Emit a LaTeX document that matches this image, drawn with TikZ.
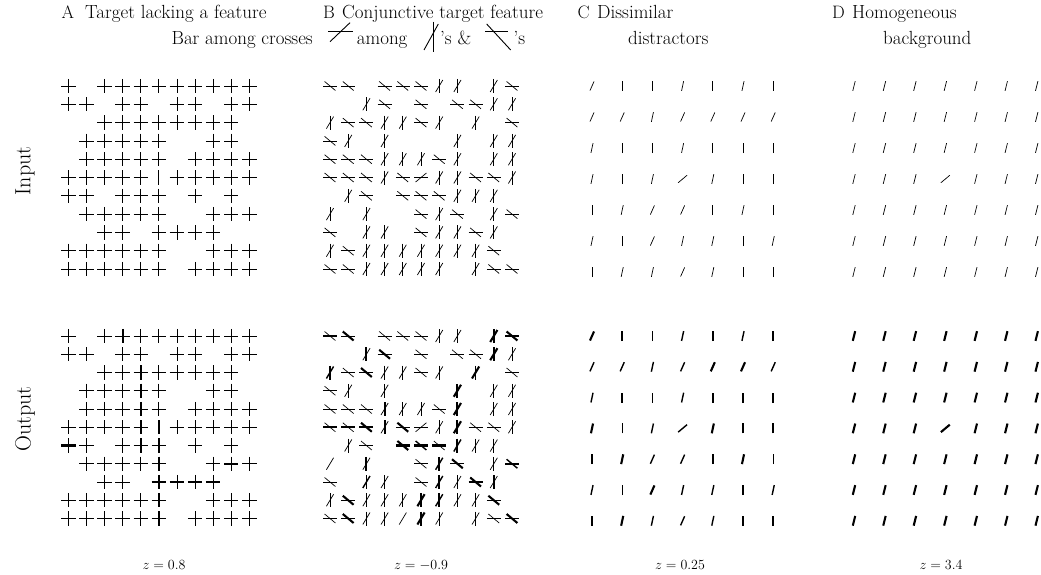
\documentclass[tikz,border=0pt]{standalone}
\usepackage{fix-cm}
\newcommand\setw[1]{\ifcase#1\def\curw{0pt}\or\def\curw{0.7pt}\or\def\curw{1.4pt}\or\def\curw{2.1pt}\fi}
\newcommand\Em{}
% panel A
\newcommand\Xc[2]{\ifnum#1>0 \setw{#1}\draw[line width=\curw] (\cx,\cy-7.2)--(\cx,\cy+7.2);\fi
  \ifnum#2>0 \setw{#2}\draw[line width=\curw] (\cx-7.2,\cy)--(\cx+7.2,\cy);\fi}
\newcommand\Ib[1]{\setw{#1}\draw[line width=\curw] (\cx,\cy-7.2)--(\cx,\cy+7.2);}
% panel B
\newcommand\Hc[2]{\ifnum#1>0 \setw{#1}\draw[line width=\curw] (\cx-7,\cy)--(\cx+7,\cy);\fi
  \ifnum#2>0 \setw{#2}\draw[line width=\curw] (\cx-5.4,\cy-4.5)--(\cx+5.4,\cy+4.5);\fi}
\newcommand\Vc[2]{\ifnum#1>0 \setw{#1}\draw[line width=\curw] (\cx,\cy-7)--(\cx,\cy+7);\fi
  \ifnum#2>0 \setw{#2}\draw[line width=\curw] (\cx-3.6,\cy+6)--(\cx+3.6,\cy-6);\fi}
\newcommand\Tc[2]{\ifnum#1>0 \setw{#1}\draw[line width=\curw] (\cx-7,\cy)--(\cx+7,\cy);\fi
  \ifnum#2>0 \setw{#2}\draw[line width=\curw] (\cx-5.4,\cy+4.5)--(\cx+5.4,\cy-4.5);\fi}
% panels C, D
\newcommand\Bar[3]{\setw{#3}\pgfmathsetmacro\bdx{#2*sin(#1)}\pgfmathsetmacro\bdy{#2*cos(#1)}%
  \draw[line width=\curw] (\cx-\bdx,\cy+\bdy)--(\cx+\bdx,\cy-\bdy);}
\newcommand\Bv[1]{\Bar{0}{5}{#1}}
\newcommand\Bs[1]{\Bar{12}{5}{#1}}
\newcommand\Bt[1]{\Bar{24}{5}{#1}}
\newcommand\Bd[1]{\Bar{14}{5}{#1}}
\newcommand\Bx[1]{\Bar{50}{5.8}{#1}}
\newcommand\gridrows[5]{%
  \foreach \rowlist [count=\ri] in {#5} {
    \foreach \cell [count=\ki] in \rowlist {
      \pgfmathsetmacro\cx{#1+(\ki-1)*#2}
      \pgfmathsetmacro\cy{#3+(\ri-1)*#4}
      \cell
    }
  }}
\newcommand\hd{\fontsize{19}{22}\selectfont}
\newcommand\lt{\fontsize{18}{20}\selectfont}
\begin{document}
\begin{tikzpicture}[x=1pt,y=-1pt,line cap=butt,
  lbl/.style={inner sep=0pt,font=\hd},
  let/.style={inner sep=0pt,font=\lt},
  zlbl/.style={inner sep=0pt,font=\fontsize{14}{16}\selectfont},
  rowlbl/.style={inner sep=0pt,rotate=90,font=\fontsize{22}{26}\selectfont},
  leg/.style={line width=0.9pt}]
\useasboundingbox (0,0) rectangle (1041,575);

% headings
\node[let,anchor=base west] (lA) at (61.5,18.3) {A};
\node[lbl,anchor=base west] (hA) at (85,18.3) {Target lacking a feature};
\node[lbl,anchor=base east] (hA2) at (313,45) {Bar among crosses};
\node[let,anchor=base west] (lB) at (323,18.3) {B};
\node[lbl,anchor=base west] (hB) at (342,18.3) {Conjunctive target feature};
\draw[leg] (328.3,31.7)--(353.3,31.7);
\draw[leg] (330,41.7)--(350,22.7);
\node[lbl,anchor=base west] (among) at (356.7,45) {among};
\draw[leg] (433.3,21.7)--(433.3,51.7);
\draw[leg] (424,50)--(438.3,24);
\node[lbl,anchor=base west] (samp) at (440,45) {'s \&};
\draw[leg] (485,31.7)--(508.3,31.7);
\draw[leg] (486.7,24)--(510.7,50);
\node[lbl,anchor=base west] (s2) at (513.3,45) {'s};
\node[let,anchor=base west] (lC) at (577.5,18.3) {C};
\node[lbl,anchor=base west] (hC) at (597,18.3) {Dissimilar};
\node[lbl,anchor=base west] (hC2) at (628,45) {distractors};
\node[let,anchor=base west] (lD) at (832,18.3) {D};
\node[lbl,anchor=base west] (hD) at (852,18.3) {Homogeneous};
\node[lbl,anchor=base west] (hD2) at (883,45) {background};

\node[rowlbl] (inp) at (25,171) {Input};
\node[rowlbl] (outp) at (25,419) {Output};

\node[zlbl,anchor=base] (z1) at (164,569) {$z=0.8$};
\node[zlbl,anchor=base] (z2) at (421,569) {$z=-0.9$};
\node[zlbl,anchor=base] (z3) at (680,569) {$z=0.25$};
\node[zlbl,anchor=base] (z4) at (941,569) {$z=3.4$};

% Panel A input
\gridrows{68.3}{18.1}{86}{18.3}{
{\Xc11,\Em,\Xc11,\Xc11,\Xc11,\Xc11,\Xc11,\Xc11,\Xc11,\Xc11,\Xc11},
{\Xc11,\Xc11,\Em,\Xc11,\Xc11,\Em,\Xc11,\Xc11,\Em,\Xc11,\Xc11},
{\Em,\Em,\Xc11,\Xc11,\Xc11,\Xc11,\Xc11,\Xc11,\Xc11,\Xc11,\Em},
{\Em,\Xc11,\Xc11,\Xc11,\Xc11,\Xc11,\Em,\Em,\Xc11,\Xc11,\Em},
{\Em,\Xc11,\Xc11,\Xc11,\Xc11,\Xc11,\Em,\Xc11,\Xc11,\Xc11,\Xc11},
{\Xc11,\Xc11,\Xc11,\Xc11,\Xc11,\Ib1,\Xc11,\Xc11,\Xc11,\Xc11,\Xc11},
{\Xc11,\Xc11,\Em,\Xc11,\Xc11,\Xc11,\Em,\Xc11,\Em,\Xc11,\Em},
{\Em,\Xc11,\Xc11,\Xc11,\Xc11,\Xc11,\Em,\Em,\Xc11,\Xc11,\Xc11},
{\Em,\Em,\Xc11,\Xc11,\Em,\Xc11,\Xc11,\Xc11,\Xc11,\Em,\Em},
{\Xc11,\Xc11,\Xc11,\Xc11,\Xc11,\Xc11,\Em,\Em,\Xc11,\Xc11,\Xc11},
{\Xc11,\Xc11,\Xc11,\Xc11,\Xc11,\Xc11,\Em,\Xc11,\Xc11,\Xc11,\Xc11}}
% Panel A output
\gridrows{68.3}{18.1}{336}{18.25}{
{\Xc11,\Em,\Xc11,\Xc31,\Xc11,\Xc11,\Xc11,\Xc11,\Xc11,\Xc11,\Xc11},
{\Xc11,\Xc11,\Em,\Xc11,\Xc11,\Em,\Xc11,\Xc11,\Em,\Xc11,\Xc11},
{\Em,\Em,\Xc11,\Xc11,\Xc31,\Xc11,\Xc11,\Xc11,\Xc11,\Xc11,\Em},
{\Em,\Xc11,\Xc11,\Xc11,\Xc31,\Xc11,\Em,\Em,\Xc11,\Xc11,\Em},
{\Em,\Xc11,\Xc11,\Xc11,\Xc31,\Xc11,\Em,\Xc11,\Xc11,\Xc11,\Xc11},
{\Xc11,\Xc11,\Xc11,\Xc11,\Xc31,\Ib3,\Xc11,\Xc11,\Xc11,\Xc11,\Xc11},
{\Xc13,\Xc11,\Em,\Xc11,\Xc31,\Xc21,\Em,\Xc11,\Em,\Xc11,\Em},
{\Em,\Xc11,\Xc11,\Xc11,\Xc11,\Xc31,\Em,\Em,\Xc11,\Xc13,\Xc11},
{\Em,\Em,\Xc11,\Xc11,\Em,\Xc33,\Xc13,\Xc13,\Xc13,\Em,\Em},
{\Xc12,\Xc12,\Xc11,\Xc11,\Xc11,\Xc31,\Em,\Em,\Xc11,\Xc11,\Xc11},
{\Xc11,\Xc11,\Xc11,\Xc11,\Xc11,\Xc31,\Em,\Xc11,\Xc11,\Xc11,\Xc11}}

% Panel B input
\gridrows{330}{18.2}{86}{18.3}{
{\Hc11,\Hc11,\Em,\Hc11,\Hc11,\Hc11,\Vc11,\Vc11,\Em,\Vc11,\Hc11},
{\Em,\Em,\Vc11,\Hc11,\Em,\Hc11,\Em,\Hc11,\Hc11,\Vc11,\Vc11},
{\Vc11,\Hc11,\Hc11,\Vc11,\Vc11,\Hc11,\Vc11,\Em,\Vc11,\Em,\Hc11},
{\Hc11,\Vc11,\Em,\Vc11,\Em,\Em,\Em,\Vc11,\Em,\Vc11,\Vc11},
{\Hc11,\Hc11,\Hc11,\Vc11,\Vc11,\Vc11,\Hc11,\Vc11,\Em,\Vc11,\Vc11},
{\Hc11,\Hc11,\Hc11,\Vc11,\Hc11,\Tc11,\Vc11,\Vc11,\Hc11,\Hc11,\Vc11},
{\Em,\Vc11,\Hc11,\Em,\Hc11,\Hc11,\Hc11,\Vc11,\Vc11,\Vc11,\Em},
{\Vc11,\Em,\Vc11,\Em,\Em,\Hc11,\Vc11,\Hc11,\Em,\Vc11,\Hc11},
{\Hc11,\Em,\Vc11,\Vc11,\Em,\Hc11,\Vc11,\Vc11,\Hc11,\Vc11,\Em},
{\Vc11,\Hc11,\Vc11,\Vc11,\Vc11,\Vc11,\Vc11,\Vc11,\Vc11,\Hc11,\Em},
{\Hc11,\Hc11,\Vc11,\Vc11,\Vc11,\Vc11,\Vc11,\Em,\Vc11,\Hc11,\Hc11}}
% Panel B output
\gridrows{330}{18.2}{336}{18.25}{
{\Hc31,\Hc13,\Em,\Hc11,\Hc11,\Hc11,\Vc11,\Vc11,\Em,\Vc33,\Hc23},
{\Em,\Em,\Vc31,\Hc13,\Em,\Hc11,\Em,\Hc11,\Hc11,\Vc33,\Vc11},
{\Vc32,\Hc11,\Hc13,\Vc11,\Vc11,\Hc11,\Vc11,\Em,\Vc23,\Em,\Hc11},
{\Hc11,\Vc11,\Em,\Vc21,\Em,\Em,\Em,\Vc33,\Em,\Vc11,\Vc11},
{\Hc11,\Hc11,\Hc11,\Vc31,\Vc11,\Vc11,\Hc11,\Vc33,\Em,\Vc11,\Vc11},
{\Hc31,\Hc31,\Hc33,\Vc31,\Hc23,\Tc11,\Vc11,\Vc33,\Hc21,\Hc21,\Vc11},
{\Em,\Vc11,\Hc21,\Em,\Hc33,\Hc32,\Hc31,\Vc32,\Vc11,\Vc11,\Em},
{\Vc01,\Em,\Vc31,\Em,\Em,\Hc11,\Vc32,\Hc13,\Em,\Vc11,\Hc32},
{\Hc11,\Em,\Vc22,\Vc11,\Em,\Hc11,\Vc32,\Vc11,\Hc23,\Vc21,\Em},
{\Vc11,\Hc13,\Vc11,\Vc11,\Vc11,\Vc33,\Vc32,\Vc11,\Vc11,\Hc13,\Em},
{\Hc11,\Hc13,\Vc11,\Vc11,\Vc01,\Vc33,\Vc11,\Em,\Vc11,\Hc11,\Hc23}}

% Panel C input
\gridrows{592}{30.2}{86}{31}{
{\Bt1,\Bv1,\Bv1,\Bs1,\Bv1,\Bs1,\Bv1},
{\Bt1,\Bt1,\Bs1,\Bt1,\Bt1,\Bt1,\Bt1},
{\Bs1,\Bv1,\Bv1,\Bs1,\Bv1,\Bv1,\Bv1},
{\Bs1,\Bv1,\Bs1,\Bx1,\Bs1,\Bv1,\Bv1},
{\Bv1,\Bs1,\Bt1,\Bt1,\Bv1,\Bs1,\Bv1},
{\Bs1,\Bv1,\Bt1,\Bs1,\Bs1,\Bv1,\Bs1},
{\Bv1,\Bs1,\Bs1,\Bt1,\Bs1,\Bv1,\Bv1}}
% Panel C output
\gridrows{592}{30.2}{336}{30.8}{
{\Bt3,\Bv3,\Bv2,\Bs2,\Bv3,\Bs2,\Bv3},
{\Bt2,\Bt2,\Bs2,\Bt2,\Bt3,\Bt3,\Bt2},
{\Bs2,\Bv3,\Bv2,\Bs2,\Bv3,\Bv3,\Bv3},
{\Bs3,\Bv2,\Bs2,\Bx2,\Bs3,\Bv2,\Bv3},
{\Bv2,\Bs3,\Bt2,\Bt2,\Bv3,\Bs3,\Bv2},
{\Bs2,\Bv2,\Bt3,\Bs2,\Bs2,\Bv2,\Bs2},
{\Bv2,\Bs3,\Bs2,\Bt2,\Bs2,\Bv2,\Bv3}}

% Panel D input
\gridrows{854}{30.45}{86}{31}{
{\Bd1,\Bd1,\Bd1,\Bd1,\Bd1,\Bd1,\Bd1},
{\Bd1,\Bd1,\Bd1,\Bd1,\Bd1,\Bd1,\Bd1},
{\Bd1,\Bd1,\Bd1,\Bd1,\Bd1,\Bd1,\Bd1},
{\Bd1,\Bd1,\Bd1,\Bx1,\Bd1,\Bd1,\Bd1},
{\Bd1,\Bd1,\Bd1,\Bd1,\Bd1,\Bd1,\Bd1},
{\Bd1,\Bd1,\Bd1,\Bd1,\Bd1,\Bd1,\Bd1},
{\Bd1,\Bd1,\Bd1,\Bd1,\Bd1,\Bd1,\Bd1}}
% Panel D output
\gridrows{854}{30.45}{336}{30.8}{
{\Bd3,\Bd3,\Bd3,\Bd3,\Bd3,\Bd3,\Bd3},
{\Bd3,\Bd3,\Bd3,\Bd3,\Bd3,\Bd3,\Bd3},
{\Bd3,\Bd3,\Bd3,\Bd3,\Bd3,\Bd3,\Bd3},
{\Bd3,\Bd3,\Bd3,\Bx3,\Bd3,\Bd3,\Bd3},
{\Bd3,\Bd3,\Bd3,\Bd3,\Bd3,\Bd3,\Bd3},
{\Bd3,\Bd3,\Bd3,\Bd3,\Bd3,\Bd3,\Bd3},
{\Bd3,\Bd3,\Bd3,\Bd3,\Bd3,\Bd3,\Bd3}}
\end{tikzpicture}
\end{document}
